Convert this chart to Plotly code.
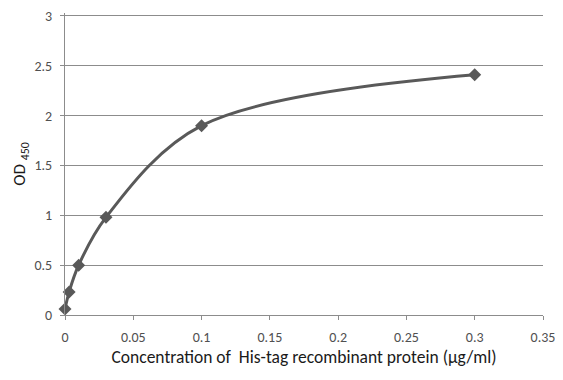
import plotly.graph_objects as go

conc = [0, 0.003, 0.01, 0.03, 0.1, 0.3]
od450 = [0.06, 0.23, 0.50, 0.98, 1.90, 2.41]
x_ticks = [0, 0.05, 0.1, 0.15, 0.2, 0.25, 0.3, 0.35]
x_tick_labels = ["0", "0.05", "0.1", "0.15", "0.2", "0.25", "0.3", "0.35"]
y_ticks = [0, 0.5, 1, 1.5, 2, 2.5, 3]
y_tick_labels = ["0", "0.5", "1", "1.5", "2", "2.5", "3"]

fig = go.Figure()
fig.add_trace(go.Scatter(
    x=conc, y=od450, mode="lines+markers",
    line=dict(color="#595959", width=3, shape="spline", smoothing=1.0),
    marker=dict(symbol="diamond", size=10, color="#595959"),
    showlegend=False,
    cliponaxis=False,
))

font = "Carlito, Open Sans, Liberation Sans, sans-serif"
fig.update_layout(
    width=555, height=372,
    margin=dict(l=57, r=20, t=5, b=65),
    plot_bgcolor="white", paper_bgcolor="white",
    font=dict(family=font, color="#333333", size=14),
    xaxis=dict(
        range=[0, 0.35], tickvals=x_ticks, ticktext=x_tick_labels,
        showgrid=False, zeroline=False, automargin=False,
        showline=True, linecolor="#8c8c8c", linewidth=1,
        ticks="outside", ticklen=4, tickcolor="#8c8c8c",
        ticklabelstandoff=5, ticklabeloverflow="allow",
        tickfont=dict(size=14, color="#505050"),
        title=dict(text="Concentration of  His-tag recombinant protein (µg/ml)",
                   font=dict(size=17.5, color="#1a1a1a"), standoff=2),
    ),
    yaxis=dict(
        range=[0, 3.03], tickvals=y_ticks, ticktext=y_tick_labels,
        showgrid=True, gridcolor="#8c8c8c", gridwidth=1, zeroline=False, automargin=False,
        showline=True, linecolor="#8c8c8c", linewidth=1,
        ticks="outside", ticklen=4, tickcolor="#8c8c8c",
        ticklabelstandoff=5, ticklabeloverflow="allow",
        tickfont=dict(size=14, color="#505050"),
        title=dict(text="OD <sub>450</sub>", font=dict(size=17, color="#1a1a1a"), standoff=4),
    ),
)

fig.write_html("out.html")
